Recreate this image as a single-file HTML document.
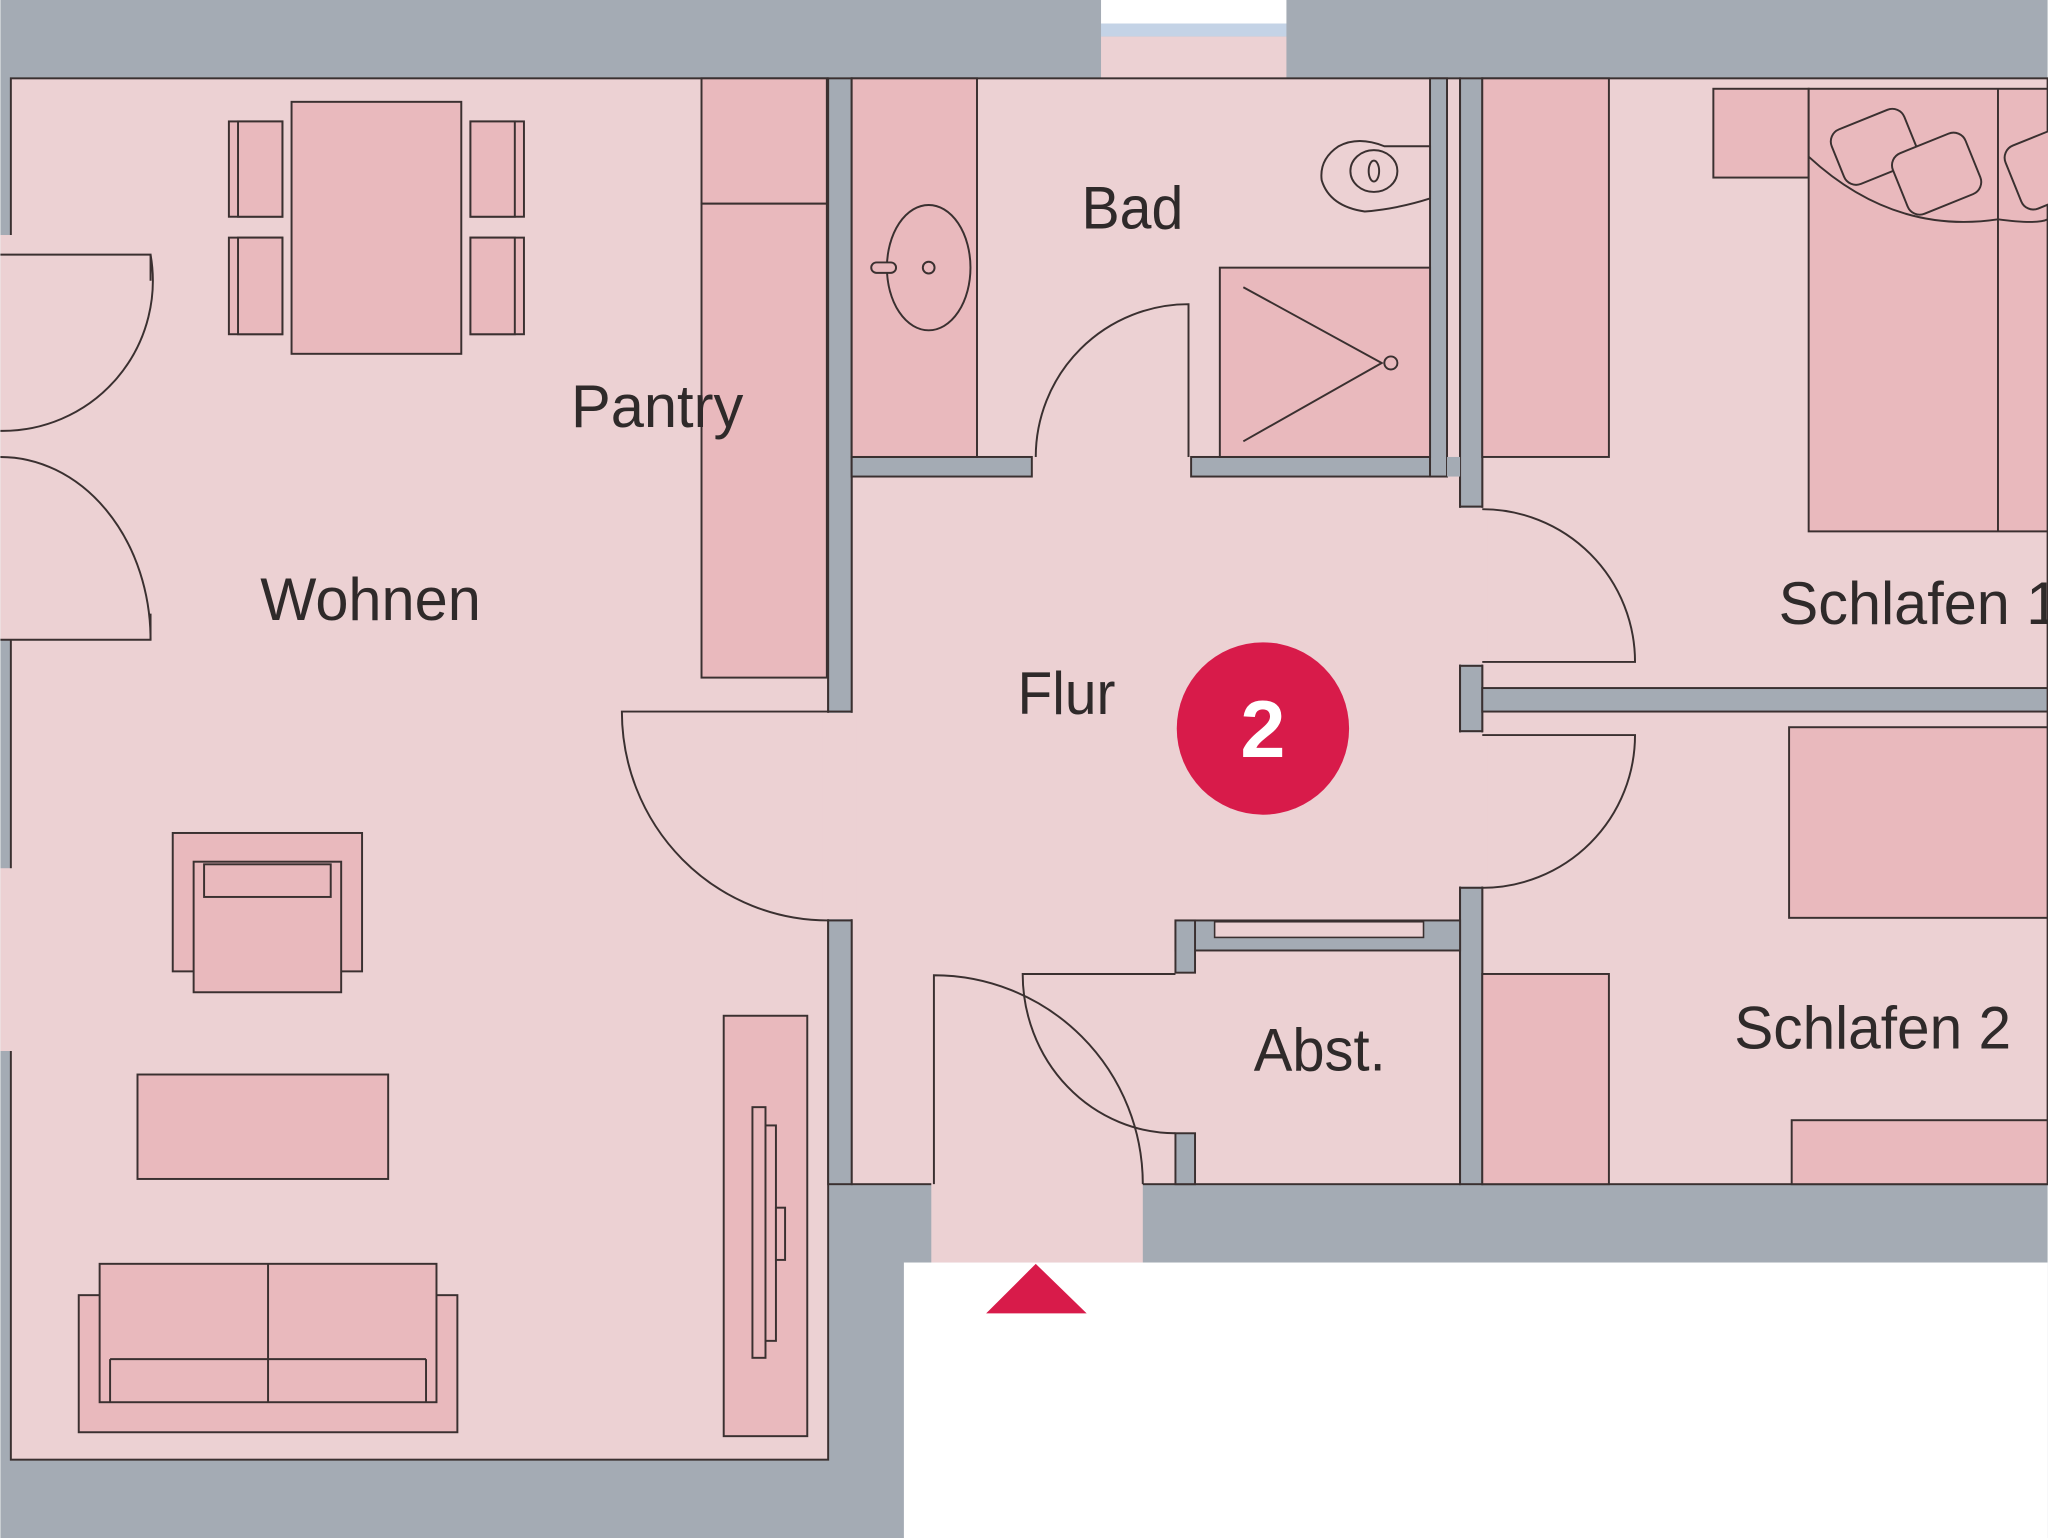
<!DOCTYPE html>
<html><head><meta charset="utf-8"><style>html,body{margin:0;padding:0;background:#fff}svg{display:block}</style></head>
<body>
<svg width="2048" height="1538" viewBox="0 0 1568 1178" xmlns="http://www.w3.org/2000/svg" font-family="Liberation Sans, sans-serif">
<rect x="0" y="0" width="1568" height="1178" fill="#a4abb4"/>
<rect x="692" y="967" width="876" height="211" fill="#fff"/>
<!-- window -->
<rect x="843" y="0" width="142" height="18" fill="#fff"/>
<rect x="843" y="18" width="142" height="10" fill="#c4d3e6"/>
<rect x="843" y="28" width="142" height="32" fill="#ecd1d3"/>
<g fill="#ecd1d3" stroke="#3a3030" stroke-width="1.5">
<rect x="8" y="60" width="626" height="1058"/>
<rect x="652" y="60" width="466" height="847"/>
<rect x="1135" y="60" width="433" height="847"/>
</g>
<g fill="#ecd1d3">
<rect x="713" y="905" width="162" height="62"/>
<rect x="630" y="546" width="26" height="158"/>
<rect x="1114" y="389" width="25" height="120"/>
<rect x="1114" y="561" width="25" height="118"/>
<rect x="0" y="180" width="10" height="310"/>
<rect x="0" y="665" width="10" height="140"/>
</g>
<!-- interior walls -->
<g fill="#a4abb4" stroke="#3a3030" stroke-width="1.5">
<rect x="634" y="60" width="18" height="485"/>
<rect x="634" y="705" width="18" height="202"/>
<rect x="652" y="350" width="138" height="15"/>
<rect x="912" y="350" width="183" height="15"/>
<rect x="1095" y="60" width="13" height="305"/>
<rect x="1118" y="60" width="17" height="328"/>
<rect x="1108" y="350" width="10" height="15" stroke="none"/>
<rect x="1118" y="510" width="17" height="50"/>
<rect x="1135" y="527" width="433" height="18"/>
<rect x="1118" y="680" width="17" height="227"/>
<rect x="900" y="705" width="218" height="23"/>
<rect x="900" y="705" width="15" height="40"/>
<rect x="900" y="868" width="15" height="39"/>
</g>
<rect x="930" y="706" width="160" height="12" fill="#ecd1d3" stroke="#3a3030" stroke-width="1.2"/>
<!-- furniture -->
<g fill="#e9b9bd" stroke="#3a3030" stroke-width="1.5">
<rect x="223" y="78" width="130" height="193"/>
<rect x="175" y="93" width="41" height="73"/><rect x="182" y="93" width="34" height="73"/>
<rect x="175" y="182" width="41" height="74"/><rect x="182" y="182" width="34" height="74"/>
<rect x="360" y="93" width="41" height="73"/><rect x="360" y="93" width="34" height="73"/>
<rect x="360" y="182" width="41" height="74"/><rect x="360" y="182" width="34" height="74"/>
<rect x="537" y="60" width="96" height="96"/>
<rect x="537" y="156" width="96" height="363"/>
<rect x="652" y="60" width="96" height="290"/>
<ellipse cx="711" cy="205" rx="32" ry="48"/>
<rect x="667" y="201" width="19" height="8" rx="4"/>
<circle cx="711" cy="205" r="4.5"/>
<rect x="934" y="205" width="161" height="145"/>
<rect x="1135" y="60" width="97" height="290"/>
<rect x="1312" y="68" width="73" height="68"/>
<rect x="1385" y="68" width="183" height="339"/>
<line x1="1530" y1="68" x2="1530" y2="407"/>
<rect x="1370" y="557" width="198" height="146"/>
<rect x="1135" y="746" width="97" height="161"/>
<rect x="1372" y="858" width="196" height="49"/>
<rect x="132" y="638" width="145" height="106"/>
<rect x="148" y="660" width="113" height="100"/>
<rect x="156" y="662" width="97" height="25"/>
<rect x="105" y="823" width="192" height="80"/>
<rect x="60" y="992" width="290" height="105"/>
<rect x="76" y="968" width="258" height="106"/>
<line x1="84" y1="1041" x2="326" y2="1041"/>
<line x1="205" y1="968" x2="205" y2="1074"/>
<line x1="84" y1="1041" x2="84" y2="1074"/><line x1="326" y1="1041" x2="326" y2="1074"/>
<rect x="554" y="778" width="64" height="322"/>
<rect x="576" y="848" width="10" height="192"/>
<rect x="586" y="862" width="8" height="165"/>
<rect x="594" y="925" width="7" height="40"/>
</g>
<!-- toilet -->
<g fill="#ecd1d3" stroke="#3a3030" stroke-width="1.5">
<path d="M1095,112 L1060,112 Q1040,104 1025,112 Q1010,122 1012,138 Q1018,158 1045,162 Q1070,160 1095,152 Z"/>
<ellipse cx="1052" cy="131" rx="18" ry="16"/>
<ellipse cx="1052" cy="131" rx="4" ry="8"/>
</g>
<!-- pillows -->
<g fill="#e9b9bd" stroke="#3a3030" stroke-width="1.5">
<path d="M1385,120 Q1450,180 1530,168 Q1560,172 1568,168" fill="none"/>
<rect x="1405" y="90" width="60" height="45" rx="10" transform="rotate(-22 1435 112)"/>
<rect x="1453" y="108" width="60" height="50" rx="10" transform="rotate(-22 1483 133)"/>
<rect x="1540" y="104" width="50" height="52" rx="10" transform="rotate(-22 1565 130)"/>
</g>
<!-- shower lines -->
<g fill="none" stroke="#3a3030" stroke-width="1.5">
<polyline points="952,220 1058,278 952,338"/>
<circle cx="1065" cy="278" r="5"/>
<!-- doors -->
<path d="M0,195 L115,195 L115,215"/>
<path d="M115,195 A115,115 0 0 1 0,330"/>
<path d="M0,490 L115,490 L115,470"/>
<path d="M115,490 A115,140 0 0 0 0,350"/>
<path d="M634,545 L476,545 A158,160 0 0 0 634,705"/>
<path d="M910,350 L910,233 A117,117 0 0 0 793,350"/>
<path d="M1135,390 A117,117 0 0 1 1252,507 L1135,507"/>
<path d="M1135,680 A117,117 0 0 0 1252,563 L1135,563"/>
<path d="M715,907 L715,747 A160,160 0 0 1 875,907"/>
<path d="M900,746 L783,746 A117,122 0 0 0 900,868"/>
</g>
<polygon points="755,1006 793,968 832,1006" fill="#d81b4a"/>
<circle cx="967" cy="558" r="66" fill="#d81b4a"/>
<text x="967" y="580" font-size="62" font-weight="bold" fill="#fff" text-anchor="middle">2</text>
<g fill="#2f2a2a" font-size="46">
<text x="828" y="175" textLength="78" lengthAdjust="spacingAndGlyphs">Bad</text>
<text x="437" y="327" textLength="132" lengthAdjust="spacingAndGlyphs">Pantry</text>
<text x="199" y="475" textLength="169" lengthAdjust="spacingAndGlyphs">Wohnen</text>
<text x="779" y="547" textLength="75" lengthAdjust="spacingAndGlyphs">Flur</text>
<text x="1362" y="478" textLength="215" lengthAdjust="spacingAndGlyphs">Schlafen 1</text>
<text x="960" y="820" textLength="101" lengthAdjust="spacingAndGlyphs">Abst.</text>
<text x="1328" y="803" textLength="212" lengthAdjust="spacingAndGlyphs">Schlafen 2</text>
</g>
</svg>
</body></html>
